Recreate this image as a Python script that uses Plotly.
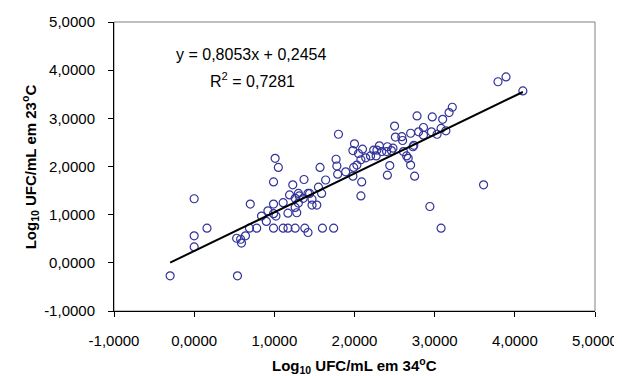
import plotly.graph_objects as go

# Data
x_34C = [-0.30, 0.00, 0.00, 0.00, 0.16, 0.54, 0.53, 0.58, 0.59, 0.64,
         0.69, 0.70, 0.78, 0.84, 0.90, 0.92, 0.99, 0.99, 1.02, 0.99,
         0.99, 1.01, 1.05, 1.11, 1.11, 1.17, 1.17, 1.19, 1.23, 1.26,
         1.26, 1.26, 1.28, 1.30, 1.30, 1.36, 1.37, 1.38, 1.42, 1.44,
         1.47, 1.47, 1.53, 1.55, 1.57, 1.59, 1.60, 1.64, 1.74, 1.77,
         1.78, 1.79, 1.80, 1.89, 1.98, 1.98, 2.00, 2.03, 2.05, 2.08,
         2.08, 2.09, 2.10, 2.14, 2.20, 2.24, 2.27, 2.28, 2.31, 2.34,
         2.40, 2.41, 2.41, 2.44, 2.46, 2.48, 2.50, 2.51, 2.59, 2.60,
         2.61, 2.65, 2.67, 2.70, 2.70, 2.73, 2.74, 2.75, 2.78, 2.80,
         2.86, 2.86, 2.94, 2.96, 2.97, 3.03, 3.08, 3.08, 3.10, 3.14,
         3.18, 3.22, 3.61, 3.79, 3.89, 4.10, 1.99, 1.31, 1.42]
y_23C = [-0.27, 1.33, 0.56, 0.33, 0.72, -0.27, 0.51, 0.49, 0.41, 0.56,
         0.72, 1.22, 0.72, 0.97, 0.86, 1.08, 1.22, 1.02, 0.97, 0.72,
         1.68, 2.17, 1.98, 1.25, 0.72, 0.72, 1.03, 1.41, 1.62, 1.34,
         1.15, 0.72, 1.04, 1.44, 1.24, 1.34, 1.73, 0.72, 0.63, 1.44,
         1.32, 1.20, 1.20, 1.57, 1.98, 1.44, 0.72, 1.72, 0.72, 2.15,
         2.01, 1.84, 2.67, 1.89, 1.80, 2.33, 2.47, 2.03, 2.27, 2.14,
         1.39, 1.68, 2.36, 2.18, 2.22, 2.34, 2.22, 2.34, 2.43, 2.31,
         2.31, 2.41, 1.82, 2.02, 2.33, 2.38, 2.84, 2.61, 2.62, 2.54,
         2.31, 2.22, 2.17, 2.03, 2.69, 2.41, 2.44, 1.80, 3.05, 2.72,
         2.81, 2.65, 1.17, 2.72, 3.03, 2.67, 2.79, 0.72, 2.98, 2.74,
         3.12, 3.23, 1.62, 3.76, 3.86, 3.57, 1.98, 1.39, 1.44]

slope = 0.8053
intercept = 0.2454
r_squared = 0.7281

tick_vals = [-1, 0, 1, 2, 3, 4, 5]
tick_text = ["-1,0000", "0,0000", "1,0000", "2,0000", "3,0000", "4,0000", "5,0000"]

x_title = "<b>Log<sub>10</sub> UFC/mL em 34<sup>o</sup>C</b>"
y_title = "<b>Log<sub>10</sub> UFC/mL em 23<sup>o</sup>C</b>"
eq_text = "y = 0,8053x + 0,2454"
r2_text = "R<sup>2</sup> = 0,7281"

x_min = min(x_34C)
x_max = max(x_34C)
trend_x = [x_min, x_max]
trend_y = [slope * v + intercept for v in trend_x]

FONT = "Liberation Sans, Arial, sans-serif"

fig = go.Figure()
fig.add_trace(go.Scatter(
    x=x_34C, y=y_23C, mode="markers",
    marker=dict(symbol="circle-open", size=8, color="#333399",
                line=dict(width=1.2, color="#333399")),
    showlegend=False, hoverinfo="skip"))
fig.add_trace(go.Scatter(
    x=trend_x, y=trend_y, mode="lines",
    line=dict(color="black", width=2),
    showlegend=False, hoverinfo="skip"))

axis_common = dict(
    tickmode="array", tickvals=tick_vals, ticktext=tick_text,
    range=[-1, 5], showgrid=False, zeroline=False,
    showline=True, linecolor="black", linewidth=1,
    ticks="outside", ticklen=5, tickcolor="black", tickwidth=1,
    tickfont=dict(family=FONT, size=15, color="black"),
    automargin=False,
)

# The page body adds an 8px offset, so the figure is 8px smaller than the window.
fig.update_layout(
    width=614, height=368,
    margin=dict(l=106, r=27, t=14, b=65),
    paper_bgcolor="white", plot_bgcolor="white",
    font=dict(family=FONT, size=15, color="black"),
    xaxis=dict(**axis_common, ticklabelstandoff=11),
    yaxis=dict(**axis_common, ticklabelstandoff=10),
    shapes=[dict(type="rect", xref="paper", yref="paper", x0=0, y0=0, x1=1, y1=1,
                 line=dict(color="#808080", width=1), layer="below")],
    annotations=[
        dict(text=eq_text, x=0.71, y=4.315, xref="x", yref="y",
             xanchor="center", yanchor="middle", showarrow=False,
             font=dict(family=FONT, size=16, color="black")),
        dict(text=r2_text, x=0.73, y=3.80, xref="x", yref="y",
             xanchor="center", yanchor="middle", showarrow=False,
             font=dict(family=FONT, size=16, color="black")),
        dict(text=x_title, x=0.5, y=-0.187, xref="paper", yref="paper",
             xanchor="center", yanchor="middle", showarrow=False,
             font=dict(family=FONT, size=15, color="black")),
        dict(text=y_title, x=-0.175, y=0.5, xref="paper", yref="paper",
             xanchor="center", yanchor="middle", showarrow=False, textangle=-90,
             font=dict(family=FONT, size=15, color="black")),
    ],
)

fig.write_html("out.html")
